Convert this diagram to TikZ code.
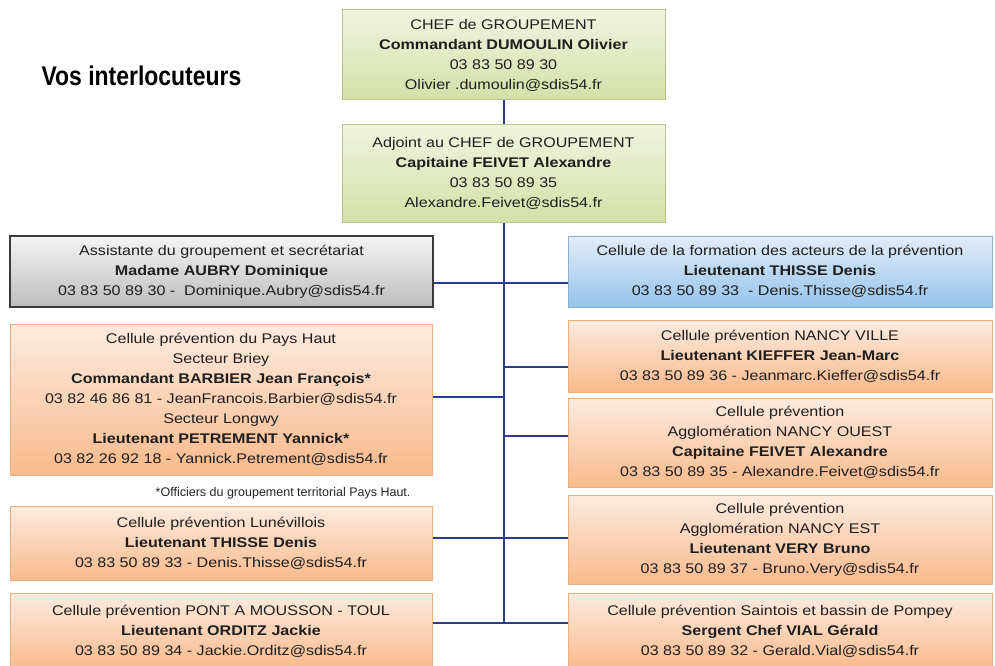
\documentclass[tikz,border=0pt]{standalone}
\usepackage{fontspec}
\setmainfont{Liberation Sans}[FakeStretch=1.15]
\newfontfamily\titlefont{Liberation Sans}[FakeStretch=0.85]
\newfontfamily\notefont{Liberation Sans}
\usetikzlibrary{calc}

\definecolor{greentop}{HTML}{F0F4E0}
\definecolor{greenbot}{HTML}{D3E0A6}
\definecolor{greenline}{HTML}{B7C48E}
\definecolor{greytop}{HTML}{F4F4F4}
\definecolor{greybot}{HTML}{BDBDBD}
\definecolor{greyline}{HTML}{3A3A3A}
\definecolor{bluetop}{HTML}{E2ECF7}
\definecolor{bluebot}{HTML}{95C4EC}
\definecolor{blueline}{HTML}{8FAFCF}
\definecolor{orangetop}{HTML}{FDEBDF}
\definecolor{orangebot}{HTML}{F8BA8C}
\definecolor{orangeline}{HTML}{F0AE80}
\definecolor{linkblue}{HTML}{2E3A8C}

\begin{document}
\begin{tikzpicture}[
    x=1pt, y=-1pt,
    box/.style={
      draw, align=center, inner sep=0pt,
      font=\fontsize{14}{20}\selectfont, text=black!88
    },
    greenbox/.style={
      box, draw=greenline, line width=1pt,
      top color=greentop, bottom color=greenbot,
      minimum width=323pt
    },
    greybox/.style={
      box, draw=greyline, line width=1.6pt,
      top color=greytop, bottom color=greybot,
      minimum width=423pt
    },
    bluebox/.style={
      box, draw=blueline, line width=1pt,
      top color=bluetop, bottom color=bluebot,
      minimum width=424pt
    },
    orangebox/.style={
      box, draw=orangeline, line width=1pt,
      top color=orangetop, bottom color=orangebot
    },
    leftbox/.style={orangebox, minimum width=422pt},
    rightbox/.style={orangebox, minimum width=424pt},
    link/.style={
      draw=linkblue, line width=2pt
    }
  ]
    \useasboundingbox[fill=white] (0,0) rectangle (995,666);

    \coordinate (CH) at (503.5, 55);
    \coordinate (AD) at (503.5,173.5);
    \coordinate (AS) at (221.5,271.5);
    \coordinate (FO) at (780,  271.5);
    \coordinate (PH) at (221,  399.5);
    \coordinate (LU) at (221,  543);
    \coordinate (PM) at (221,  631);
    \coordinate (NV) at (780,  356);
    \coordinate (NO) at (780,  442.5);
    \coordinate (NE) at (780,  539.5);
    \coordinate (SA) at (780,  631);

    % junctions on the central line
    \coordinate (J1) at (503.5,283);
    \coordinate (J2) at (503.5,367);
    \coordinate (J3) at (503.5,397);
    \coordinate (J4) at (503.5,436);
    \coordinate (J5) at (503.5,538);
    \coordinate (J6) at (503.5,623);

    \node[anchor=west,font=\titlefont\bfseries\fontsize{27}{30}\selectfont]
      (TIT) at (38,76) {Vos interlocuteurs};

    \node[greenbox,minimum height=90pt] (CHF) at (CH)
      {CHEF de GROUPEMENT\\ \textbf{Commandant DUMOULIN Olivier}\\
       03 83 50 89 30\\ Olivier .dumoulin@sdis54.fr};

    \node[greenbox,minimum height=97pt] (ADJ) at (AD)
      {Adjoint au CHEF de GROUPEMENT\\ \textbf{Capitaine FEIVET Alexandre}\\
       03 83 50 89 35\\ Alexandre.Feivet@sdis54.fr};

    \node[greybox,minimum height=71pt] (ASS) at (AS)
      {Assistante du groupement et secrétariat\\ \textbf{Madame AUBRY Dominique}\\
       03 83 50 89 30 -\ \ Dominique.Aubry@sdis54.fr};

    \node[bluebox,minimum height=71pt] (FOR) at (FO)
      {Cellule de la formation des acteurs de la prévention\\
       \textbf{Lieutenant THISSE Denis}\\ 03 83 50 89 33\ \ - Denis.Thisse@sdis54.fr};

    \node[leftbox,minimum height=151pt] (PHT) at (PH)
      {Cellule prévention du Pays Haut\\ Secteur Briey\\
       \textbf{Commandant BARBIER Jean François*}\\
       03 82 46 86 81 - JeanFrancois.Barbier@sdis54.fr\\ Secteur Longwy\\
       \textbf{Lieutenant PETREMENT Yannick*}\\
       03 82 26 92 18 - Yannick.Petrement@sdis54.fr};

    \node[anchor=east,font=\notefont\fontsize{12.5}{14}\selectfont,text=black!85]
      (NOTE) at (414,493) {*Officiers du groupement territorial Pays Haut.};

    \node[leftbox,minimum height=74pt] (LUN) at (LU)
      {Cellule prévention Lunévillois\\ \textbf{Lieutenant THISSE Denis}\\
       03 83 50 89 33 - Denis.Thisse@sdis54.fr};

    \node[leftbox,minimum height=76pt] (PAM) at (PM)
      {Cellule prévention PONT A MOUSSON - TOUL\\ \textbf{Lieutenant ORDITZ Jackie}\\
       03 83 50 89 34 - Jackie.Orditz@sdis54.fr};

    \node[rightbox,minimum height=72pt] (NVI) at (NV)
      {Cellule prévention NANCY VILLE\\ \textbf{Lieutenant KIEFFER Jean-Marc}\\
       03 83 50 89 36 - Jeanmarc.Kieffer@sdis54.fr};

    \node[rightbox,minimum height=89pt] (NOU) at (NO)
      {Cellule prévention\\ Agglomération NANCY OUEST\\
       \textbf{Capitaine FEIVET Alexandre}\\
       03 83 50 89 35 - Alexandre.Feivet@sdis54.fr};

    \node[rightbox,minimum height=89pt] (NES) at (NE)
      {Cellule prévention\\ Agglomération NANCY EST\\
       \textbf{Lieutenant VERY Bruno}\\ 03 83 50 89 37 - Bruno.Very@sdis54.fr};

    \node[rightbox,minimum height=76pt] (SAI) at (SA)
      {Cellule prévention Saintois et bassin de Pompey\\
       \textbf{Sergent Chef VIAL Gérald}\\ 03 83 50 89 32 - Gerald.Vial@sdis54.fr};

    \draw[link] (CHF.south) -- (ADJ.north);
    \draw[link] (ADJ.south) -- (J6);

    \draw[link] (ASS.east |- J1) -- (FOR.west |- J1);
    \draw[link] (J2)            -- (NVI.west |- J2);
    \draw[link] (PHT.east |- J3) -- (J3);
    \draw[link] (J4)            -- (NOU.west |- J4);
    \draw[link] (LUN.east |- J5) -- (NES.west |- J5);
    \draw[link] (PAM.east |- J6) -- (SAI.west |- J6);
  \end{tikzpicture}
\end{document}
